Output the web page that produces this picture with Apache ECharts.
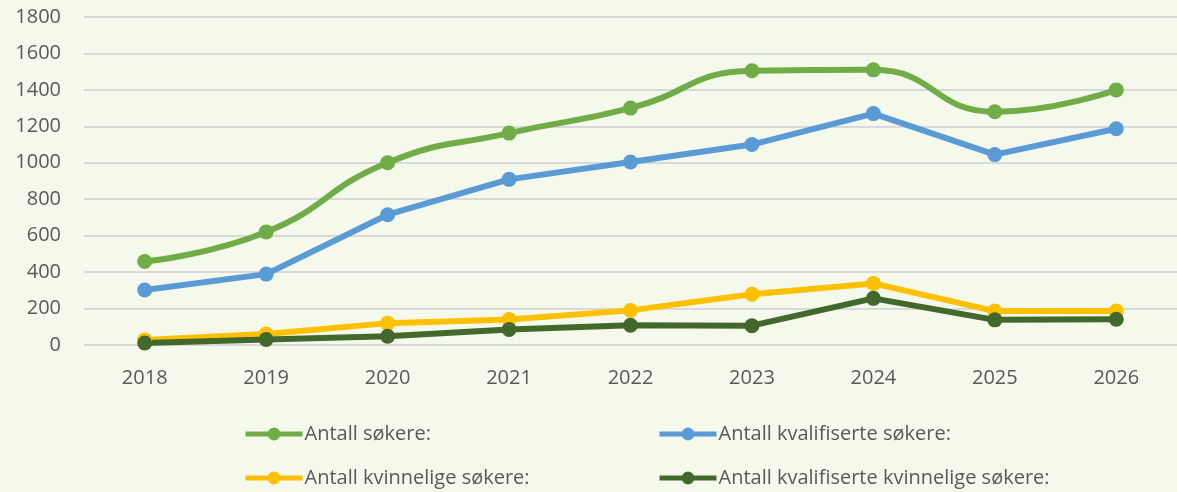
<!DOCTYPE html>
<html>
<head>
<meta charset="utf-8">
<script src="https://cdn.jsdelivr.net/npm/echarts@6/dist/echarts.min.js"></script>
<style>
  html, body { margin: 0; padding: 0; background: #F5F9EC; }
  #chart { width: 1177px; height: 492px; }
</style>
</head>
<body>
<div id="chart"></div>
<script>
// years on the x axis
var years = ['2018', '2019', '2020', '2021', '2022', '2023', '2024', '2025', '2026']

// values
var sokere = [458, 620, 1000, 1163, 1300, 1505, 1510, 1280, 1400]
var kvalSokere = [302, 389, 715, 909, 1004, 1100, 1270, 1045, 1187]
var kvinnSokere = [28, 60, 120, 140, 190, 279, 338, 186, 186]
var kvalKvinnSokere = [11, 30, 48, 85, 108, 106, 256, 138, 141]

var names = [
    'Antall søkere:',
    'Antall kvalifiserte søkere:',
    'Antall kvinnelige søkere:',
    'Antall kvalifiserte kvinnelige søkere:'
]

var font = 'Open Sans'
var grey = '#595959'

function makeSeries(name, data, color, smooth) {
    return {
        name: name,
        type: 'line',
        data: data,
        smooth: smooth,
        symbol: 'circle',
        symbolSize: 15,
        color: color,
        lineStyle: { width: 6, color: color },
        itemStyle: { color: color }
    }
}

// one legend per item so the two columns line up
function makeLegend(name, left, top) {
    return {
        left: left,
        top: top,
        itemWidth: 57,
        itemHeight: 16,
        itemGap: 0,
        data: [name],
        lineStyle: { width: 5 },
        textStyle: { fontFamily: font, fontSize: 20, color: grey, lineHeight: 24, padding: [0, 0, 0, -3] }
    }
}

var chart = echarts.init(document.getElementById('chart'))
var option = {
    backgroundColor: '#F5F9EC',
    animation: false,
    grid: {
        left: 84,
        top: 17,
        width: 1099,
        height: 328
    },
    legend: [
        makeLegend(names[0], 238, 417),
        makeLegend(names[1], 652, 417),
        makeLegend(names[2], 238, 461),
        makeLegend(names[3], 652, 461)
    ],
    xAxis: {
        type: 'category',
        data: years,
        axisLine: { show: false },
        axisTick: { show: false },
        axisLabel: { fontFamily: font, fontSize: 20, color: grey, margin: 23 }
    },
    yAxis: {
        type: 'value',
        min: 0,
        max: 1800,
        interval: 200,
        axisLine: { show: false },
        axisTick: { show: false },
        axisLabel: {
            fontFamily: font, fontSize: 20, color: grey, margin: 23,
            formatter: function (v) { return String(v) }
        },
        splitLine: { lineStyle: { color: '#D9D9D9', width: 2 } }
    },
    series: [
        makeSeries(names[0], sokere, '#70AD47', 0.5),
        makeSeries(names[1], kvalSokere, '#5B9BD5', false),
        makeSeries(names[2], kvinnSokere, '#FFC000', false),
        makeSeries(names[3], kvalKvinnSokere, '#43682B', false)
    ]
}

chart.setOption(option)
</script>
</body>
</html>
